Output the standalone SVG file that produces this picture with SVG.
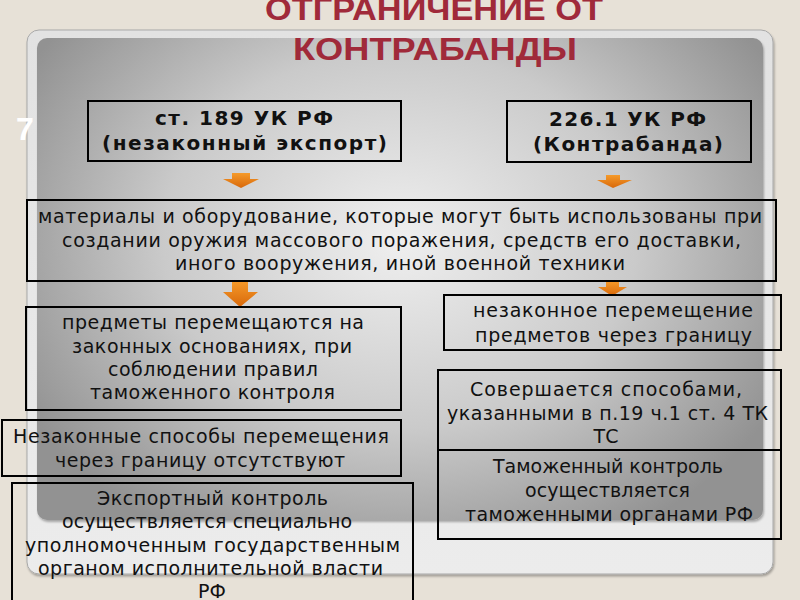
<svg xmlns="http://www.w3.org/2000/svg" width="800" height="600" viewBox="0 0 800 600">
<defs>
<radialGradient id="panel" gradientUnits="userSpaceOnUse" cx="400" cy="240" r="430" gradientTransform="translate(400 240) scale(1 0.8) translate(-400 -240)">
<stop offset="0" stop-color="#efefef"/>
<stop offset="0.55" stop-color="#cacaca"/>
<stop offset="1" stop-color="#929292"/>
</radialGradient>
<linearGradient id="frame" x1="0" y1="0" x2="0" y2="1">
<stop offset="0" stop-color="#e2e2e2"/>
<stop offset="1" stop-color="#ececec"/>
</linearGradient>
<linearGradient id="arr" x1="0" y1="0" x2="0" y2="1">
<stop offset="0" stop-color="#f59a2a"/>
<stop offset="1" stop-color="#d8680a"/>
</linearGradient>
<filter id="sh" x="-5%" y="-5%" width="110%" height="110%">
<feDropShadow dx="1" dy="2" stdDeviation="1" flood-color="#000" flood-opacity="0.3"/>
</filter>
</defs>
<style>
.box{fill:none;stroke:#000;stroke-width:2}
.t{font-family:"DejaVu Sans","Noto Sans",sans-serif;font-size:19px;fill:#111;text-anchor:middle}
.tb{font-family:"DejaVu Sans","Noto Sans",sans-serif;font-size:20px;font-weight:bold;fill:#111;text-anchor:middle}
.title{font-family:"Liberation Sans",Arial,sans-serif;font-size:32px;font-weight:bold;fill:#a02a3a;text-anchor:middle}
.arrow{fill:url(#arr)}
</style>
<rect x="0" y="0" width="800" height="600" fill="#e7e1d7"/>
<g id="frame-bg">
<rect x="27" y="30" width="746" height="544" rx="12" fill="url(#frame)" stroke="#a9a9a9" stroke-width="1" filter="url(#sh)"/>
<rect x="37" y="38" width="726" height="482" rx="10" fill="url(#panel)" filter="url(#sh)"/>
</g>
<g id="title">
<text class="title" x="434" y="20" textLength="338" lengthAdjust="spacingAndGlyphs">ОТГРАНИЧЕНИЕ ОТ</text>
<text class="title" x="435" y="60" textLength="284" lengthAdjust="spacingAndGlyphs">КОНТРАБАНДЫ</text>
</g>
<text x="16" y="140" font-family="Liberation Sans, Arial, sans-serif" font-size="32" font-weight="bold" fill="#ffffff">7</text>
<g id="connectors">
<path class="arrow" d="M232 173 H250 V179 H259 L241 188 L223 179 H232 Z"/>
<path class="arrow" d="M606 175 H620 V180 H632 L613 188 L597 180 H606 Z"/>
<path class="arrow" d="M232 281 H248 V292 H258 L240 307 L223 292 H232 Z"/>
<path class="arrow" d="M606 281 H619 V287 H627 L612 296 L598 287 H606 Z"/>
</g>
<g id="node-189">
<rect class="box" x="88" y="101" width="313" height="60"/>
<text class="tb" x="244" y="125" textLength="178" lengthAdjust="spacing">ст. 189 УК РФ</text>
<text class="tb" x="244.5" y="150" textLength="285" lengthAdjust="spacing">(незаконный экспорт)</text>
</g>
<g id="node-226">
<rect class="box" x="507" y="101" width="244" height="61"/>
<text class="tb" x="627.5" y="126" textLength="157" lengthAdjust="spacing">226.1 УК РФ</text>
<text class="tb" x="628" y="151" textLength="190" lengthAdjust="spacing">(Контрабанда)</text>
</g>
<g id="node-materials">
<rect class="box" x="27" y="200" width="749" height="81"/>
<text class="t" x="400" y="223" textLength="724" lengthAdjust="spacing">материалы и оборудование, которые могут быть использованы при</text>
<text class="t" x="401.5" y="247" textLength="679" lengthAdjust="spacing">создании оружия массового поражения, средств его доставки,</text>
<text class="t" x="400" y="270" textLength="450" lengthAdjust="spacing">иного вооружения, иной военной техники</text>
</g>
<g id="node-legal">
<rect class="box" x="26" y="307" width="375" height="103"/>
<text class="t" x="213" y="329" textLength="302" lengthAdjust="spacing">предметы перемещаются на</text>
<text class="t" x="212" y="353" textLength="280" lengthAdjust="spacing">законных основаниях, при</text>
<text class="t" x="213" y="376" textLength="210" lengthAdjust="spacing">соблюдении правил</text>
<text class="t" x="212.5" y="399" textLength="245" lengthAdjust="spacing">таможенного контроля</text>
</g>
<g id="node-no-illegal">
<rect class="box" x="2" y="420" width="399" height="56"/>
<text class="t" x="201" y="443" textLength="376" lengthAdjust="spacing">Незаконные способы перемещения</text>
<text class="t" x="200" y="467" textLength="290" lengthAdjust="spacing">через границу отсутствуют</text>
</g>
<g id="node-export-control">
<rect class="box" x="12" y="483" width="401" height="130"/>
<text class="t" x="212.5" y="505" textLength="231" lengthAdjust="spacing">Экспортный контроль</text>
<text class="t" x="207" y="528" textLength="290" lengthAdjust="spacing">осуществляется специально</text>
<text class="t" x="212.5" y="552" textLength="375" lengthAdjust="spacing">уполномоченным государственным</text>
<text class="t" x="210.5" y="575" textLength="345" lengthAdjust="spacing">органом исполнительной власти</text>
<text class="t" x="212" y="598">РФ</text>
</g>
<g id="node-illegal-move">
<rect class="box" x="444" y="295" width="337" height="55"/>
<text class="t" x="613" y="317" textLength="280" lengthAdjust="spacing">незаконное перемещение</text>
<text class="t" x="613.5" y="342" textLength="277" lengthAdjust="spacing">предметов через границу</text>
</g>
<g id="node-methods">
<rect class="box" x="438" y="370" width="343" height="80"/>
<text class="t" x="606" y="396" textLength="272" lengthAdjust="spacing">Совершается способами,</text>
<text class="t" x="607.5" y="420" textLength="321" lengthAdjust="spacing">указанными в п.19 ч.1 ст. 4 ТК</text>
<text class="t" x="606" y="443">ТС</text>
</g>
<g id="node-customs-control">
<rect class="box" x="438" y="450" width="343" height="89"/>
<text class="t" x="608" y="473" textLength="230" lengthAdjust="spacing">Таможенный контроль</text>
<text class="t" x="607.5" y="497" textLength="165" lengthAdjust="spacing">осуществляется</text>
<text class="t" x="609" y="521" textLength="288" lengthAdjust="spacing">таможенными органами РФ</text>
</g>
</svg>
